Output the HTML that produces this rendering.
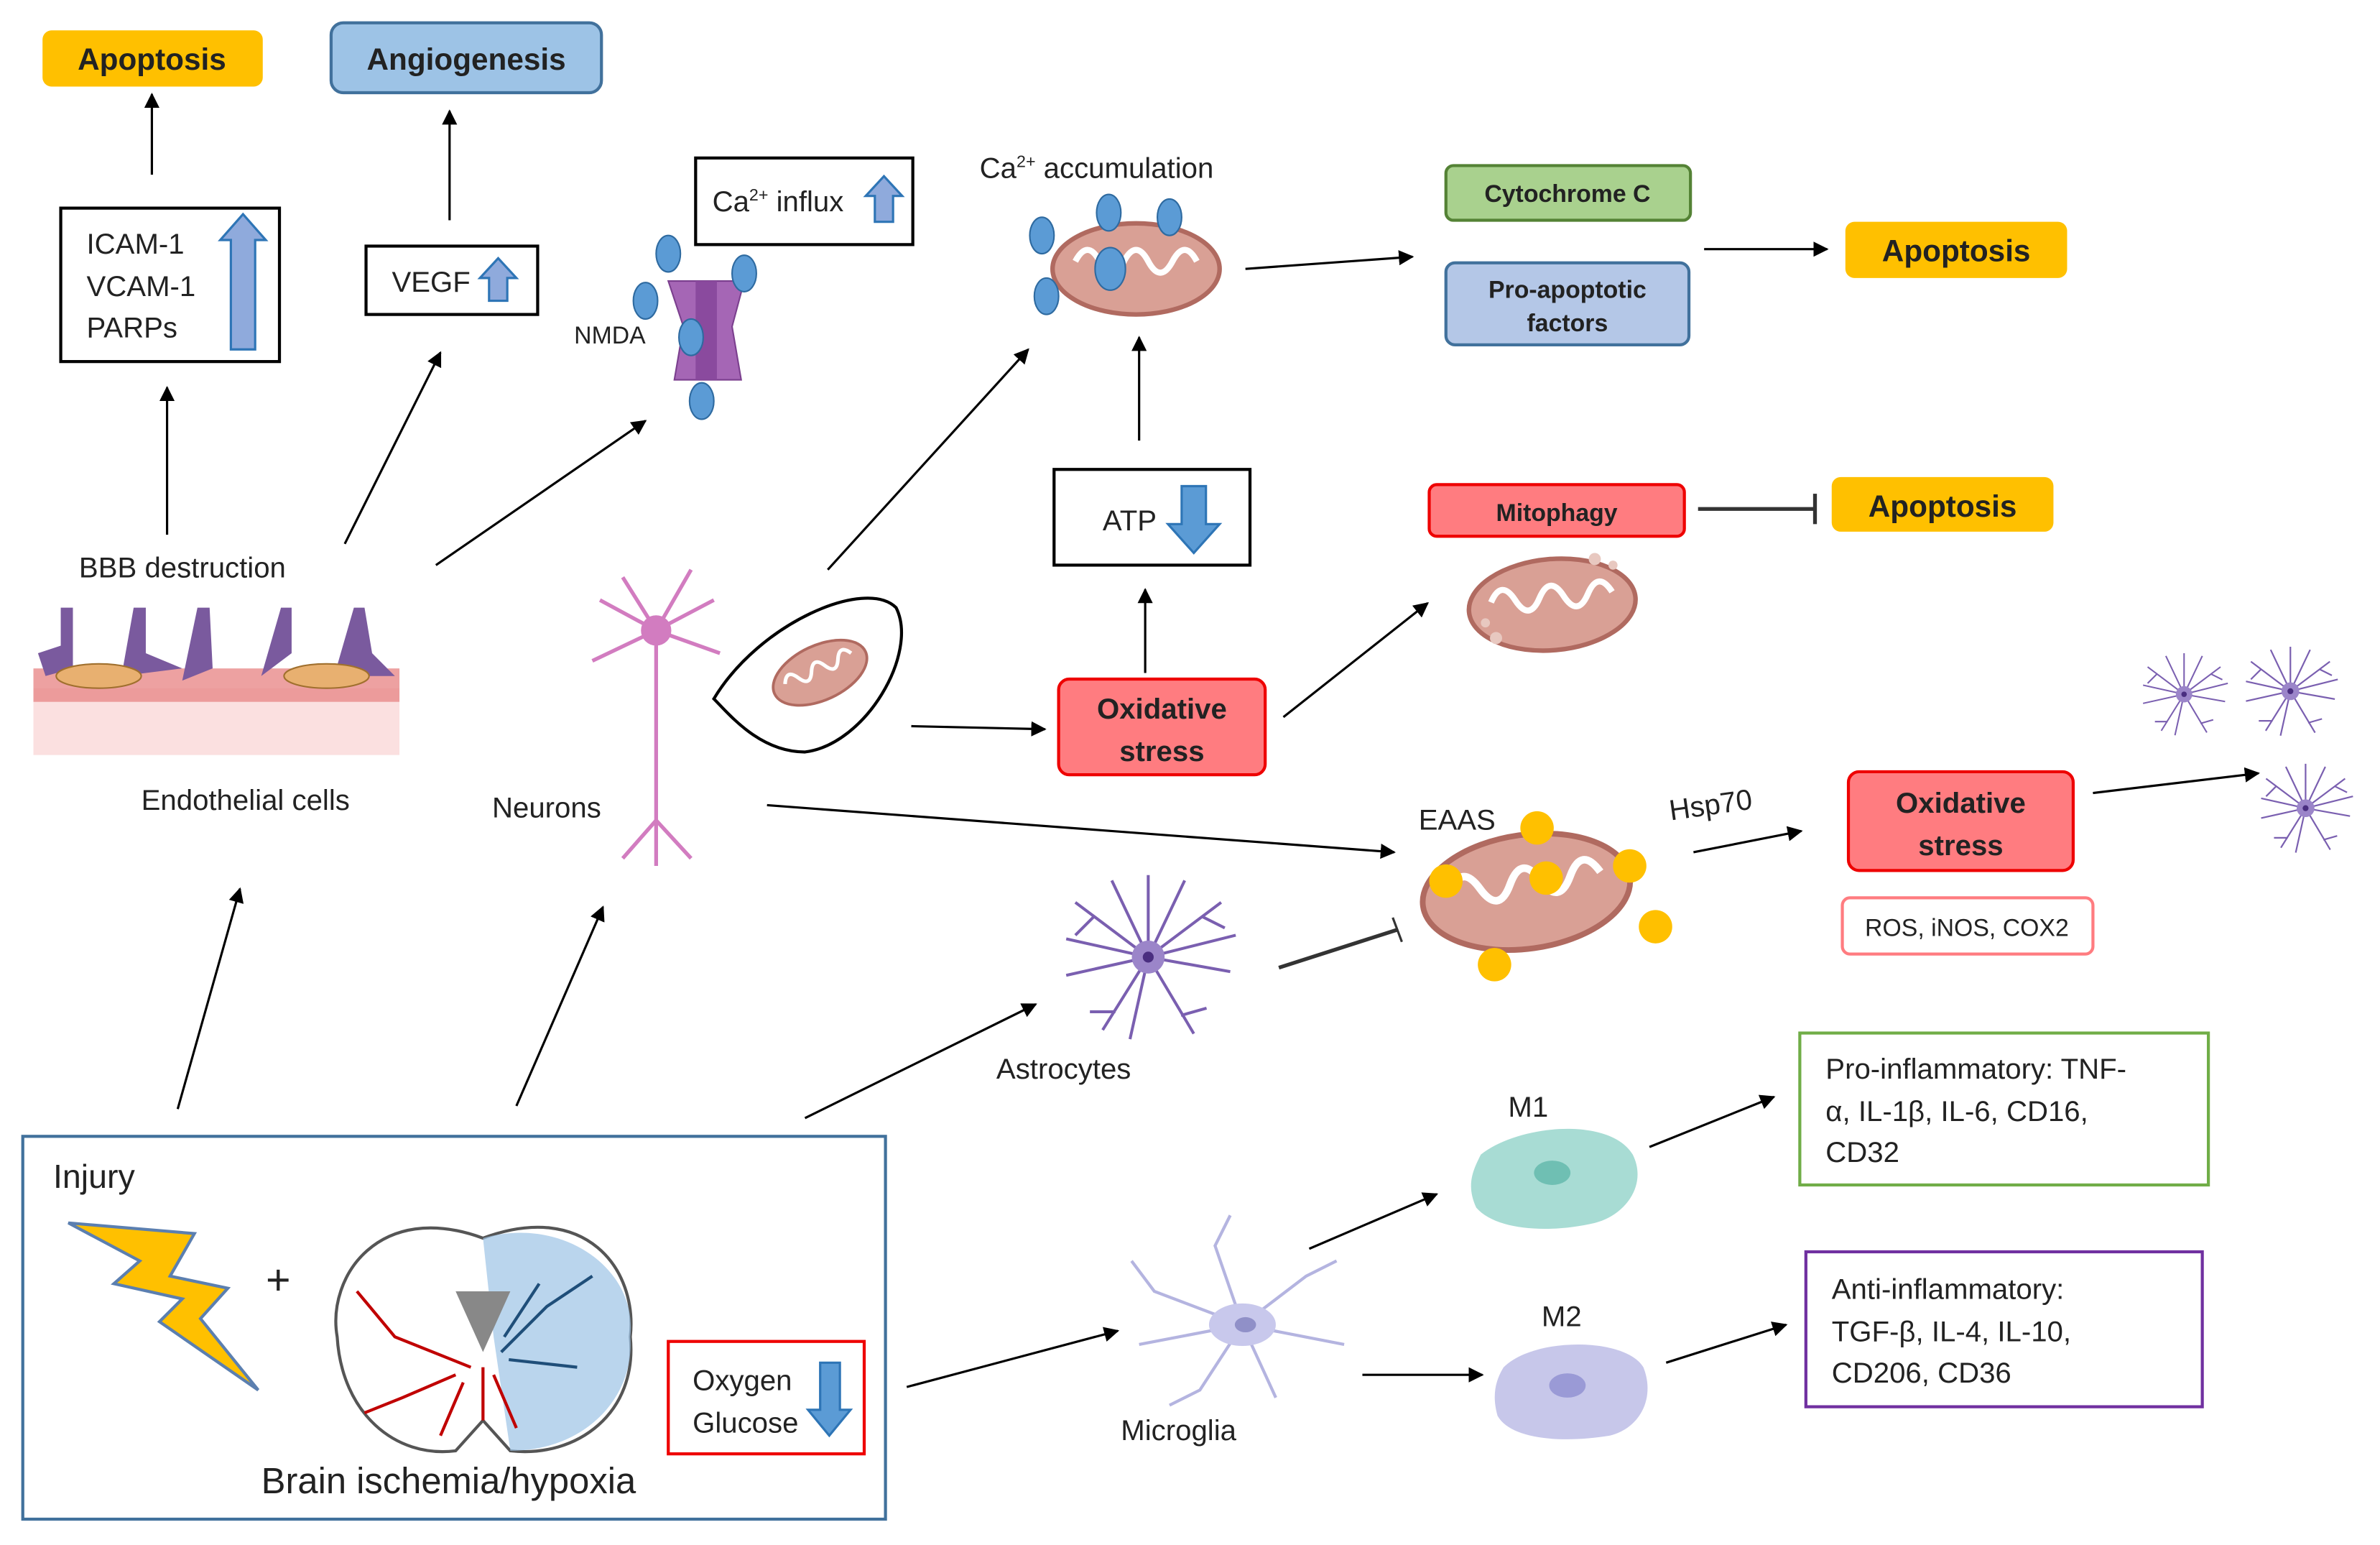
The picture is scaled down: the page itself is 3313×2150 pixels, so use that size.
<!DOCTYPE html>
<html><head><meta charset="utf-8"><style>
html,body{margin:0;padding:0;background:#fff;}
svg{display:block;}
text{font-family:"Liberation Sans",sans-serif;fill:#222;}
.b{font-weight:bold;}
</style></head><body>
<svg width="3313" height="2150" viewBox="0 0 1567 1017" preserveAspectRatio="none" xmlns="http://www.w3.org/2000/svg">
<defs>
<marker id="ar" markerWidth="10" markerHeight="10" refX="9" refY="5" orient="auto" markerUnits="userSpaceOnUse"><path d="M0,0 L10,5 L0,10 z" fill="#000"/></marker>
<g id="mito"><ellipse cx="0" cy="0" rx="55" ry="30" fill="#d9a095" stroke="#b06a60" stroke-width="3"/><path d="M-40,-5 q8,-15 16,0 q8,15 16,0 q8,-15 16,0 q8,15 16,0 q8,-15 16,0" fill="none" stroke="#fff" stroke-width="4"/></g>
<g id="astro" stroke="#7a5fb0" stroke-width="1.6" fill="none"><path d="M0,0 L-40,-30 M0,0 L40,-30 M0,0 L-45,10 M0,0 L45,8 M0,0 L-25,40 M0,0 L25,42 M0,0 L0,-45 M0,0 L-10,45 M0,0 L-45,-10 M0,0 L48,-12 M0,0 L-20,-42 M0,0 L20,-42 M-30,-22 L-40,-12 M30,-22 L42,-16 M-18,30 L-32,30 M18,32 L32,28"/><circle r="9" fill="#9b85c9" stroke="none"/><circle r="3" fill="#4a2e80" stroke="none"/></g>
</defs>
<g stroke="#000" stroke-width="1.5" fill="none" marker-end="url(#ar)">
<line x1="100" y1="115" x2="100" y2="62"/><line x1="296" y1="145" x2="296" y2="73"/>
<line x1="110" y1="352" x2="110" y2="255"/><line x1="227" y1="358" x2="290" y2="232"/>
<line x1="287" y1="372" x2="425" y2="277"/><line x1="545" y1="375" x2="677" y2="230"/>
<line x1="820" y1="177" x2="930" y2="169"/><line x1="1122" y1="164" x2="1203" y2="164"/>
<line x1="750" y1="290" x2="750" y2="222"/><line x1="754" y1="443" x2="754" y2="388"/>
<line x1="600" y1="478" x2="688" y2="480"/><line x1="845" y1="472" x2="940" y2="397"/>
<line x1="505" y1="530" x2="918" y2="561"/><line x1="1115" y1="561" x2="1186" y2="547"/>
<line x1="1378" y1="522" x2="1487" y2="509"/>
<line x1="117" y1="730" x2="158" y2="585"/><line x1="340" y1="728" x2="397" y2="597"/>
<line x1="530" y1="736" x2="682" y2="661"/><line x1="597" y1="913" x2="736" y2="876"/>
<line x1="862" y1="822" x2="946" y2="786"/><line x1="897" y1="905" x2="976" y2="905"/>
<line x1="1086" y1="755" x2="1168" y2="722"/><line x1="1097" y1="897" x2="1176" y2="872"/>
</g>
<g stroke="#333" stroke-width="2.5"><line x1="1118" y1="335" x2="1195" y2="335"/><line x1="1195" y1="325" x2="1195" y2="345"/>
<line x1="842" y1="637" x2="920" y2="612"/><line x1="917" y1="604" x2="923" y2="620" stroke-width="1.5"/></g>
<rect x="28" y="20" width="145" height="37" rx="6" fill="#ffc000"/><text x="100" y="46" text-anchor="middle" class="b" font-size="20">Apoptosis</text>
<rect x="1215" y="146" width="146" height="37" rx="6" fill="#ffc000"/><text x="1288" y="172" text-anchor="middle" class="b" font-size="20">Apoptosis</text>
<rect x="1206" y="314" width="146" height="36" rx="6" fill="#ffc000"/><text x="1279" y="340" text-anchor="middle" class="b" font-size="20">Apoptosis</text>
<rect x="218" y="15" width="178" height="46" rx="8" fill="#9dc3e6" stroke="#41719c" stroke-width="2"/><text x="307" y="46" text-anchor="middle" class="b" font-size="20">Angiogenesis</text>
<rect x="40" y="137" width="144" height="101" fill="#fff" stroke="#000" stroke-width="2"/>
<text x="57" y="167" font-size="19">ICAM-1</text><text x="57" y="195" font-size="19">VCAM-1</text><text x="57" y="222" font-size="19">PARPs</text>
<path d="M152,230 L152,158 L145,158 L160,141 L175,158 L168,158 L168,230 z" fill="#8faadc" stroke="#2e75b6" stroke-width="1.5"/>
<rect x="241" y="162" width="113" height="45" fill="#fff" stroke="#000" stroke-width="2"/><text x="258" y="192" font-size="19">VEGF</text>
<path d="M322,198 L322,183 L316,183 L328,170 L340,183 L334,183 L334,198 z" fill="#8faadc" stroke="#2e75b6" stroke-width="1.5"/>
<rect x="458" y="104" width="143" height="57" fill="#fff" stroke="#000" stroke-width="2"/><text x="469" y="139" font-size="19">Ca<tspan font-size="11" dy="-7">2+</tspan><tspan dy="7"> influx</tspan></text>
<path d="M576,146 L576,129 L570,129 L582,116 L594,129 L588,129 L588,146 z" fill="#8faadc" stroke="#2e75b6" stroke-width="1.5"/>
<path d="M440,185 L490,185 L482,215 L488,250 L444,250 L450,215 z" fill="#a566b5" stroke="#7b3f8e"/>
<rect x="458" y="185" width="14" height="65" fill="#8a4a9e"/>
<g fill="#5b9bd5" stroke="#2e6aa0"><ellipse cx="440" cy="167" rx="8" ry="12"/><ellipse cx="425" cy="198" rx="8" ry="12"/><ellipse cx="490" cy="180" rx="8" ry="12"/><ellipse cx="455" cy="222" rx="8" ry="12"/><ellipse cx="462" cy="264" rx="8" ry="12"/></g>
<text x="378" y="226" font-size="16">NMDA</text>
<text x="645" y="117" font-size="19">Ca<tspan font-size="11" dy="-7">2+</tspan><tspan dy="7"> accumulation</tspan></text>
<use href="#mito" x="748" y="177"/>
<g fill="#5b9bd5" stroke="#2e6aa0"><ellipse cx="686" cy="155" rx="8" ry="12"/><ellipse cx="730" cy="140" rx="8" ry="12"/><ellipse cx="770" cy="143" rx="8" ry="12"/><ellipse cx="731" cy="177" rx="10" ry="14"/><ellipse cx="689" cy="195" rx="8" ry="12"/></g>
<rect x="952" y="109" width="161" height="36" rx="5" fill="#a9d18e" stroke="#548235" stroke-width="2"/><text x="1032" y="133" text-anchor="middle" class="b" font-size="16">Cytochrome C</text>
<rect x="952" y="173" width="160" height="54" rx="6" fill="#b4c7e7" stroke="#41719c" stroke-width="2"/><text x="1032" y="196" text-anchor="middle" class="b" font-size="16">Pro-apoptotic</text><text x="1032" y="218" text-anchor="middle" class="b" font-size="16">factors</text>
<rect x="694" y="309" width="129" height="63" fill="#fff" stroke="#000" stroke-width="2"/><text x="726" y="349" font-size="19">ATP</text>
<path d="M778,320 L794,320 L794,345 L803,345 L786,364 L769,345 L778,345 z" fill="#5b9bd5" stroke="#2e75b6" stroke-width="1.5"/>
<rect x="941" y="319" width="168" height="34" rx="5" fill="#ff7c80" stroke="#e00" stroke-width="2"/><text x="1025" y="343" text-anchor="middle" class="b" font-size="16">Mitophagy</text>
<use href="#mito" x="1022" y="398" transform="rotate(-5 1022 398)"/>
<g fill="#e8c8c0"><circle cx="985" cy="420" r="4"/><circle cx="978" cy="410" r="3"/><circle cx="1050" cy="368" r="4"/><circle cx="1062" cy="372" r="3"/></g>
<text x="52" y="380" font-size="19">BBB destruction</text>
<rect x="22" y="453" width="241" height="44" fill="#fbe0e0"/>
<rect x="22" y="440" width="241" height="22" fill="#e88a8a" opacity="0.8"/>
<g fill="#7a5a9e"><path d="M40,400 L48,400 L48,440 L30,445 L25,430 L40,425z"/><path d="M88,400 L96,400 L96,430 L120,440 L80,445z"/><path d="M130,400 L138,400 L140,440 L120,448z"/><path d="M185,400 L192,400 L192,430 L172,445z"/><path d="M233,400 L240,400 L245,430 L260,445 L220,445z"/></g>
<g fill="#e8b070" stroke="#a0702e"><ellipse cx="65" cy="445" rx="28" ry="8"/><ellipse cx="215" cy="445" rx="28" ry="8"/></g>
<text x="93" y="533" font-size="19">Endothelial cells</text>
<g stroke="#d27cc0" stroke-width="2.5" fill="none"><line x1="432" y1="420" x2="432" y2="540"/><path d="M432,415 L395,395 M432,415 L470,395 M432,415 L410,380 M432,415 L455,375 M432,415 L390,435 M432,415 L474,430 M432,540 L410,565 M432,540 L455,565 M432,540 L432,570"/></g>
<circle cx="432" cy="415" r="10" fill="#d27cc0"/>
<text x="324" y="538" font-size="19">Neurons</text>
<path d="M470,460 C500,410 570,380 590,400 C605,430 570,490 530,495 C500,495 480,470 470,460 z" fill="#fff" stroke="#000" stroke-width="2"/>
<use href="#mito" x="540" y="443" transform="rotate(-25 540 443) scale(0.6) translate(360 295)"/>
<rect x="697" y="447" width="136" height="63" rx="7" fill="#ff7c80" stroke="#e00" stroke-width="2"/><text x="765" y="473" text-anchor="middle" class="b" font-size="19">Oxidative</text><text x="765" y="501" text-anchor="middle" class="b" font-size="19">stress</text>
<text x="934" y="546" font-size="19">EAAS</text>
<use href="#mito" x="1005" y="587" transform="rotate(-8 1005 587) translate(1005 587) scale(1.25) translate(-1005 -587)"/>
<g fill="#ffc000"><circle cx="1012" cy="545" r="11"/><circle cx="952" cy="580" r="11"/><circle cx="1018" cy="578" r="11"/><circle cx="1073" cy="570" r="11"/><circle cx="1090" cy="610" r="11"/><circle cx="984" cy="635" r="11"/></g>
<text x="1100" y="540" font-size="19" transform="rotate(-8 1100 540)">Hsp70</text>
<rect x="1217" y="508" width="148" height="65" rx="7" fill="#ff7c80" stroke="#e00" stroke-width="2"/><text x="1291" y="535" text-anchor="middle" class="b" font-size="19">Oxidative</text><text x="1291" y="563" text-anchor="middle" class="b" font-size="19">stress</text>
<rect x="1213" y="591" width="165" height="37" rx="5" fill="#fff" stroke="#ff7c80" stroke-width="2"/><text x="1295" y="616" text-anchor="middle" font-size="16">ROS, iNOS, COX2</text>
<use href="#astro" x="1438" y="457" transform="translate(1438 457) scale(0.6) translate(-1438 -457)"/>
<use href="#astro" x="1508" y="455" transform="translate(1508 455) scale(0.65) translate(-1508 -455)"/>
<use href="#astro" x="1518" y="532" transform="translate(1518 532) scale(0.65) translate(-1518 -532)"/>
<use href="#astro" x="756" y="630" transform="translate(756 630) scale(1.2) translate(-756 -630)"/>
<text x="656" y="710" font-size="19">Astrocytes</text>
<rect x="15" y="748" width="568" height="252" fill="#fff" stroke="#41719c" stroke-width="2"/>
<text x="35" y="782" font-size="22">Injury</text>
<path d="M45,805 L128,812 L112,840 L150,848 L132,868 L170,915 L105,870 L120,855 L75,845 L92,830 z" fill="#ffc000" stroke="#5b7fb0" stroke-width="2"/>
<text x="175" y="852" font-size="28">+</text>
<path d="M318,815 C250,790 215,840 222,880 C225,930 260,960 300,955 L318,935 L336,955 C380,960 420,930 415,880 C420,835 385,790 318,815 z" fill="#fff" stroke="#555" stroke-width="2"/>
<path d="M318,815 C370,800 420,835 415,880 C418,920 385,955 336,955 L325,880 z" fill="#9dc3e6" opacity="0.7"/>
<g stroke="#c00000" stroke-width="2" fill="none"><path d="M310,900 L260,880 L235,850 M300,905 L265,920 L240,930 M305,910 L290,945 M318,900 L318,935 M325,905 L340,940"/></g>
<g stroke="#1f4e79" stroke-width="2" fill="none"><path d="M330,890 L360,860 L390,840 M335,895 L380,900 M332,880 L355,845"/></g>
<path d="M300,850 L318,890 L336,850 z" fill="#888"/>
<rect x="440" y="883" width="129" height="74" fill="#fff" stroke="#e00" stroke-width="2"/>
<text x="456" y="915" font-size="19">Oxygen</text><text x="456" y="943" font-size="19">Glucose</text>
<path d="M540,897 L553,897 L553,928 L560,928 L546,945 L532,928 L540,928 z" fill="#5b9bd5" stroke="#2e75b6" stroke-width="1.5"/>
<text x="172" y="983" font-size="24">Brain ischemia/hypoxia</text>
<g stroke="#b4b4e0" stroke-width="2" fill="none"><path d="M818,872 L760,850 L745,830 M818,872 L800,820 L810,800 M818,872 L860,840 L880,830 M818,872 L885,885 M818,872 L840,920 M818,872 L790,915 L770,925 M818,872 L750,885"/></g>
<ellipse cx="818" cy="872" rx="22" ry="14" fill="#c8c8ec"/><ellipse cx="820" cy="872" rx="7" ry="5" fill="#9090c8"/>
<text x="738" y="948" font-size="19">Microglia</text>
<text x="993" y="735" font-size="19">M1</text>
<path d="M975,760 C1000,740 1060,735 1075,760 C1085,780 1070,800 1050,805 C1020,812 985,810 972,795 C965,780 970,770 975,760 z" fill="#a8dcd4"/><ellipse cx="1022" cy="772" rx="12" ry="8" fill="#6fbfb3"/>
<text x="1015" y="873" font-size="19">M2</text>
<path d="M990,900 C1010,880 1070,880 1082,900 C1090,920 1080,940 1060,945 C1030,950 995,948 986,932 C982,918 985,908 990,900 z" fill="#c7c7ea"/><ellipse cx="1032" cy="912" rx="12" ry="8" fill="#9a9ad6"/>
<rect x="1185" y="680" width="269" height="100" fill="#fff" stroke="#70ad47" stroke-width="2"/>
<text x="1202" y="710" font-size="19">Pro-inflammatory: TNF-</text><text x="1202" y="738" font-size="19">α, IL-1β, IL-6, CD16,</text><text x="1202" y="765" font-size="19">CD32</text>
<rect x="1189" y="824" width="261" height="102" fill="#fff" stroke="#7030a0" stroke-width="2"/>
<text x="1206" y="855" font-size="19">Anti-inflammatory:</text><text x="1206" y="883" font-size="19">TGF-β, IL-4, IL-10,</text><text x="1206" y="910" font-size="19">CD206, CD36</text>
</svg>
</body></html>
